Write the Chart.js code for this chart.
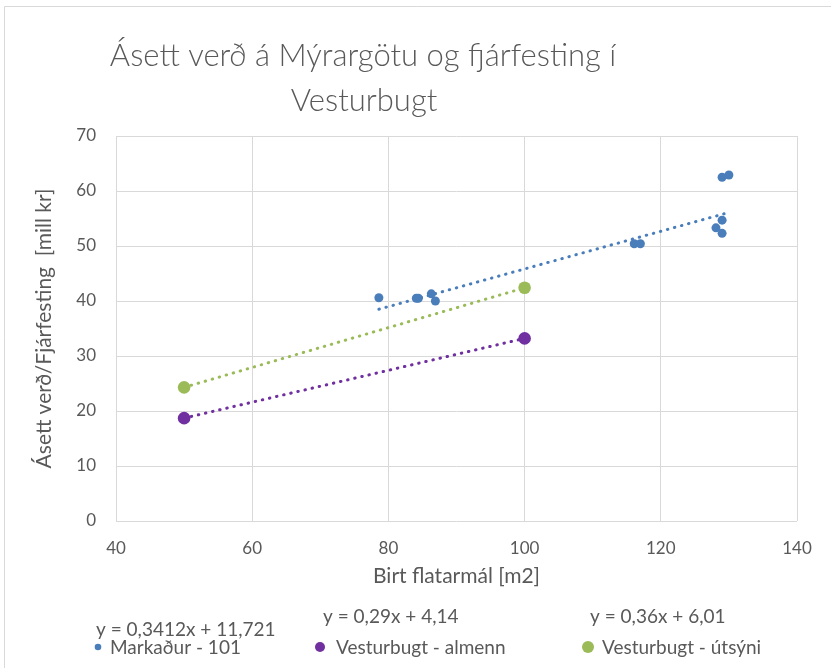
<!DOCTYPE html>
<html>
<head>
<meta charset="utf-8">
<script src="https://cdn.jsdelivr.net/npm/chart.js@4.4.0/dist/chart.umd.min.js"></script>
<style>
  html, body { margin: 0; padding: 0; background: #fff; }
  canvas { display: block; }
</style>
</head>
<body>
<canvas id="chart" width="831" height="668"></canvas>
<script>
// Markaður - 101
const marketX = [78.6, 84.1, 84.4, 86.3, 86.9, 116.1, 117.0, 128.1, 129.0, 129.0, 129.0, 130.0];
const marketY = [40.6, 40.5, 40.5, 41.3, 40.0, 50.4, 50.4, 53.3, 54.7, 52.3, 62.5, 62.9];

// Vesturbugt
const almennX = [50, 100];
const almennY = [18.7, 33.2];
const utsyniX = [50, 100];
const utsyniY = [24.3, 42.4];

// trendline end points for the market series
const marketTrendX = [78.6, 130];
const marketTrendY = [38.5, 56.1];

const seriesNames = ["Markaður - 101", "Vesturbugt - almenn", "Vesturbugt - útsýni"];
const trendLabels = ["y = 0,3412x + 11,721", "y = 0,29x + 4,14", "y = 0,36x + 6,01"];
const titleLines = ["Ásett verð á Mýrargötu og fjárfesting í", "Vesturbugt"];

const xTicks = [40, 60, 80, 100, 120, 140];
const yTicks = [0, 10, 20, 30, 40, 50, 60, 70];

const BLUE = "#4a7ebb";
const PURPLE = "#7030a0";
const GREEN = "#9bbb59";
const TEXT = "#595959";
const GRID = "#d9d9d9";
const FONT = "Lato, 'Open Sans', sans-serif";

function pts(xs, ys) {
    return xs.map((x, i) => ({ x: x, y: ys[i] }));
}

function trend(xs, ys, color) {
    return {
        type: "line",
        data: pts(xs, ys),
        borderColor: color,
        borderWidth: 3,
        borderDash: [0.5, 6.8],
        borderCapStyle: "round",
        pointRadius: 0,
        fill: false,
        order: 2
    };
}

// title, legend with trend equations, and the outer frame
const decorations = {
    id: "decorations",
    afterDraw(chart) {
        const ctx = chart.ctx;
        ctx.save();

        ctx.strokeStyle = GRID;
        ctx.lineWidth = 1;
        ctx.beginPath();
        ctx.moveTo(4.5, 668);
        ctx.lineTo(4.5, 6.5);
        ctx.lineTo(831, 6.5);
        ctx.stroke();

        ctx.fillStyle = TEXT;
        ctx.textAlign = "center";
        ctx.textBaseline = "middle";
        ctx.font = "300 31px " + FONT;
        ctx.fillText(titleLines[0], 363, 56, 514);
        ctx.fillText(titleLines[1], 364, 101);

        const colors = [BLUE, PURPLE, GREEN];
        const dotX = [98, 320, 588];
        const dotR = [3.3, 5, 6];
        const textX = [110, 336, 602];
        const eqX = [96, 323, 590];
        const eqY = [630, 617, 617];

        ctx.textAlign = "left";
        ctx.font = "19px " + FONT;
        for (let i = 0; i < 3; i++) {
            ctx.fillStyle = colors[i];
            ctx.beginPath();
            ctx.arc(dotX[i], 647, dotR[i], 0, Math.PI * 2);
            ctx.fill();
            ctx.fillStyle = TEXT;
            ctx.fillText(seriesNames[i], textX[i], 648);
            ctx.fillText(trendLabels[i], eqX[i], eqY[i]);
        }
        ctx.restore();
    }
};

new Chart(document.getElementById("chart"), {
    type: "scatter",
    data: {
        datasets: [
            {
                label: seriesNames[0],
                data: pts(marketX, marketY),
                backgroundColor: BLUE,
                borderWidth: 0,
                pointRadius: 4.5,
                order: 1
            },
            {
                label: seriesNames[1],
                data: pts(almennX, almennY),
                backgroundColor: PURPLE,
                borderWidth: 0,
                pointRadius: 6.3,
                order: 1
            },
            {
                label: seriesNames[2],
                data: pts(utsyniX, utsyniY),
                backgroundColor: GREEN,
                borderWidth: 0,
                pointRadius: 6.3,
                order: 1
            },
            trend(marketTrendX, marketTrendY, BLUE),
            trend(almennX, almennY, PURPLE),
            trend(utsyniX, utsyniY, GREEN)
        ]
    },
    options: {
        responsive: false,
        devicePixelRatio: 1,
        animation: false,
        layout: { padding: { left: 0, top: 136, right: 34, bottom: 79 } },
        plugins: {
            legend: { display: false },
            tooltip: { enabled: false }
        },
        scales: {
            x: {
                type: "linear",
                min: xTicks[0],
                max: xTicks[xTicks.length - 1],
                afterBuildTicks: s => { s.ticks = xTicks.map(v => ({ value: v })); },
                afterFit: s => { s.height = 68; },
                grid: { color: GRID, lineWidth: 1, drawTicks: false },
                border: { display: false },
                ticks: { color: TEXT, font: { family: FONT, size: 17 }, padding: 17 },
                title: {
                    display: true,
                    text: "Birt flatarmál [m2]",
                    color: TEXT,
                    font: { family: FONT, size: 21 },
                    padding: 0
                }
            },
            y: {
                type: "linear",
                min: yTicks[0],
                max: yTicks[yTicks.length - 1],
                afterBuildTicks: s => { s.ticks = yTicks.map(v => ({ value: v })); },
                afterFit: s => { s.width = 116; },
                grid: { color: GRID, lineWidth: 1, drawTicks: false },
                border: { display: false },
                ticks: { color: TEXT, font: { family: FONT, size: 17 }, padding: 20 },
                title: {
                    display: true,
                    text: "Ásett verð/Fjárfesting  [mill kr]",
                    color: TEXT,
                    font: { family: FONT, size: 21 },
                    padding: { top: 32, bottom: 0 }
                }
            }
        }
    },
    plugins: [decorations]
});
</script>
</body>
</html>
